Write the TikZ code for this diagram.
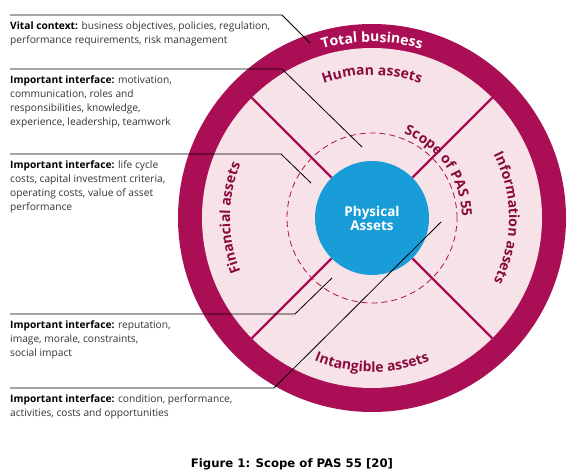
\documentclass[tikz,border=0pt]{standalone}
\usepackage{fontspec}
\setmainfont{Open Sans}
\newfontfamily\capfont{DejaVu Sans}
\usepackage{tikz}
\usetikzlibrary{decorations.text,positioning}
\definecolor{crimson}{RGB}{170,14,85}
\definecolor{darkcrimson}{RGB}{138,10,62}
\definecolor{pinkfill}{RGB}{246,226,231}
\definecolor{pasblue}{RGB}{24,157,216}
\tikzset{
  lbl/.style={anchor=north west, align=left, inner xsep=0pt, inner ysep=6.5pt,
    font=\fontsize{10.2}{14}\selectfont, text=black!80},
  leader/.style={black, line width=0.8pt},
  divider/.style={crimson, line width=2.2pt},
  arclabel/.style={decorate, decoration={text along path, text align=center,
    text={|\fontsize{14}{14}\selectfont\bfseries\color{darkcrimson}|#1}}}
}

\begin{document}
\begin{tikzpicture}[x=1pt, y=1pt]
        \useasboundingbox (0,0) rectangle (580,472);
        % Define points
        \coordinate (O) at (372,254);
        \coordinate (K1) at (282,457);
        \coordinate (E1) at (310,429);
        \coordinate (K2) at (282,403);
        \coordinate (E2) at (362,325);
        \coordinate (K3) at (281,318);
        \coordinate (E3) at (311,289);
        \coordinate (K4) at (295,158);
        \coordinate (E4) at (332,194);
        \coordinate (K5) at (274,84);
        \coordinate (E5) at (441,250);
        % Draw the rings
        \fill[crimson] (O) circle (194pt);
        \fill[pinkfill] (O) circle (170pt);
        \draw[crimson, line width=0.8pt, dash pattern=on 6pt off 4pt] (O) circle (85pt);
        \node[circle, fill=pasblue, minimum size=114pt, inner sep=0pt, text=white, align=center,
          font=\fontsize{13.5}{14}\selectfont\bfseries] (P) at (O) {Physical\\Assets};
        \foreach \a in {45,135,225,315}
          \draw[divider] (P.\a) -- ([shift={(\a:170)}]O);
        % Label the rings
        \path[decorate, decoration={text along path, text align=center,
          text={|\fontsize{14}{14}\selectfont\bfseries\color{white}|Total business}}]
          ([shift={(135:176)}]O) arc[start angle=135, end angle=45, radius=176pt];
        \path[arclabel={Human assets}]
          ([shift={(150:143)}]O) arc[start angle=150, end angle=30, radius=143pt];
        \path[arclabel={Information assets}]
          ([shift={(60:137)}]O) arc[start angle=60, end angle=-60, radius=137pt];
        \path[arclabel={Intangible assets}]
          ([shift={(210:154)}]O) arc[start angle=210, end angle=330, radius=154pt];
        \path[arclabel={Financial assets}]
          ([shift={(240:142)}]O) arc[start angle=240, end angle=120, radius=142pt];
        \path[arclabel={Scope of PAS 55}]
          ([shift={(85:90)}]O) arc[start angle=85, end angle=-15, radius=90pt];
        % Interface texts
        \node[lbl] (T1) at (10,457) {\textbf{\color{black}Vital context:} business objectives, policies, regulation,\\
          performance requirements, risk management};
        \node[lbl] (T2) at (10,403) {\textbf{\color{black}Important interface:} motivation,\\
          communication, roles and\\responsibilities, knowledge,\\experience, leadership, teamwork};
        \node[lbl] (T3) at (10,318) {\textbf{\color{black}Important interface:} life cycle\\
          costs, capital investment criteria,\\operating costs, value of asset\\performance};
        \node[lbl] (T4) at (10,158) {\textbf{\color{black}Important interface:} reputation,\\
          image, morale, constraints,\\social impact};
        \node[lbl] (T5) at (10,84) {\textbf{\color{black}Important interface:} condition, performance,\\
          activities, costs and opportunities};
        % Leader lines
        \draw[leader] (T1.north west) -- (K1) -- (E1);
        \draw[leader] (T2.north west) -- (K2) -- (E2);
        \draw[leader] (T3.north west) -- (K3) -- (E3);
        \draw[leader] (T4.north west) -- (K4) -- (E4);
        \draw[leader] (T5.north west) -- (K5) -- (E5);
        % Caption
        \node[anchor=base, font=\capfont\bfseries\fontsize{11.7}{13}\selectfont] (F) at (292,5)
          {Figure 1: Scope of PAS 55 [20]};
      \end{tikzpicture}
\end{document}
